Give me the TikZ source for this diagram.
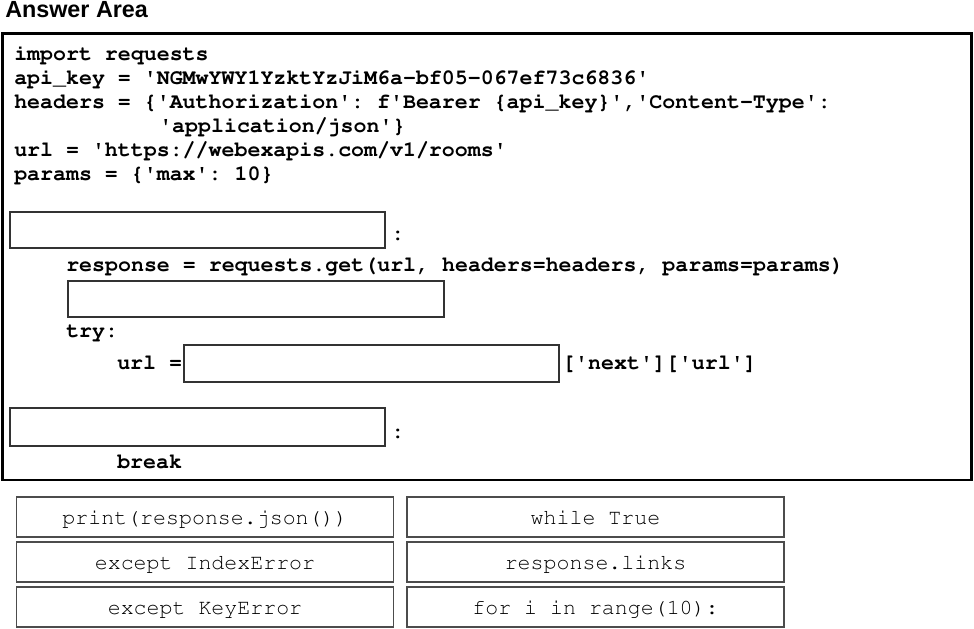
\documentclass[tikz,border=0pt]{standalone}
\usepackage[T1]{fontenc}
\usepackage{fontspec}
\setmainfont{Liberation Sans}
\usepackage{tikz}
\newcommand\q{\textquotesingle}
\tikzstyle{code}=[anchor=base west, inner sep=0pt, font=\fontencoding{T1}\fontfamily{pcr}\fontseries{b}\fontsize{16.2}{19}\selectfont\frenchspacing]
\tikzstyle{blank}=[draw=black!80, line width=1.1pt, fill=white]
\tikzstyle{choice}=[draw=black!70, line width=1.1pt]
\tikzstyle{pick}=[anchor=base, inner sep=0pt, font=\fontencoding{T1}\fontfamily{pcr}\fontsize{16.2}{19}\selectfont\frenchspacing, text=black]
\begin{document}
\begin{tikzpicture}[x=.75pt, y=-.75pt]
				\useasboundingbox (0,0) rectangle (974,628);
				\node[anchor=base west, inner sep=0pt, font=\fontsize{17.5}{20}\selectfont\bfseries] (title) at (5,17.5) {Answer Area};
				\draw[line width=2.2pt] (2.5,33.5) rectangle (971.5,480);

				\node[code] (imp) at (14,60) {import requests};
				\node[code] (key) at (14,84) {api\_key = \q NGMwYWY1YzktYzJiM6a-bf05-067ef73c6836\q};
				\node[code] (hdr) at (14,108) {headers = \{\q Authorization\q: f\q Bearer \{api\_key\}\q,\q Content-Type\q:};
				\node[code] (ctype) at (159,132) {\q application/json\q\}};
				\node[code] (url) at (14,156) {url = \q https://webexapis.com/v1/rooms\q};
				\node[code] (par) at (14,180) {params = \{\q max\q: 10\}};

				\draw[blank] (10,212) rectangle (385,248);
				\node[code] (colA) at (391,240) {:};
				\node[code] (resp) at (66,271) {response = requests.get(url, headers=headers, params=params)};
				\draw[blank] (68,281) rectangle (444,317);
				\node[code] (try) at (66,337) {try:};
				\node[code] (urlB) at (117,369) {url =};
				\draw[blank] (184,345) rectangle (559,382);
				\node[code] (nxt) at (562,369) {[\q next\q][\q url\q]};
				\draw[blank] (10,408) rectangle (385,446);
				\node[code] (colB) at (391,438) {:};
				\node[code] (brk) at (117,468) {break};

				\foreach \t [count=\i] in {print(response.json()), except IndexError, except KeyError} {
					\draw[choice] (16.5,452+45*\i) rectangle ++(377,40);
					\node[pick] (left\i) at (205,479+45*\i) {\t};
				}
				\foreach \t [count=\i] in {while True, response.links, for i in range(10):} {
					\draw[choice] (407,452+45*\i) rectangle ++(377,40);
					\node[pick] (right\i) at (595.5,479+45*\i) {\t};
				}
			\end{tikzpicture}
\end{document}
